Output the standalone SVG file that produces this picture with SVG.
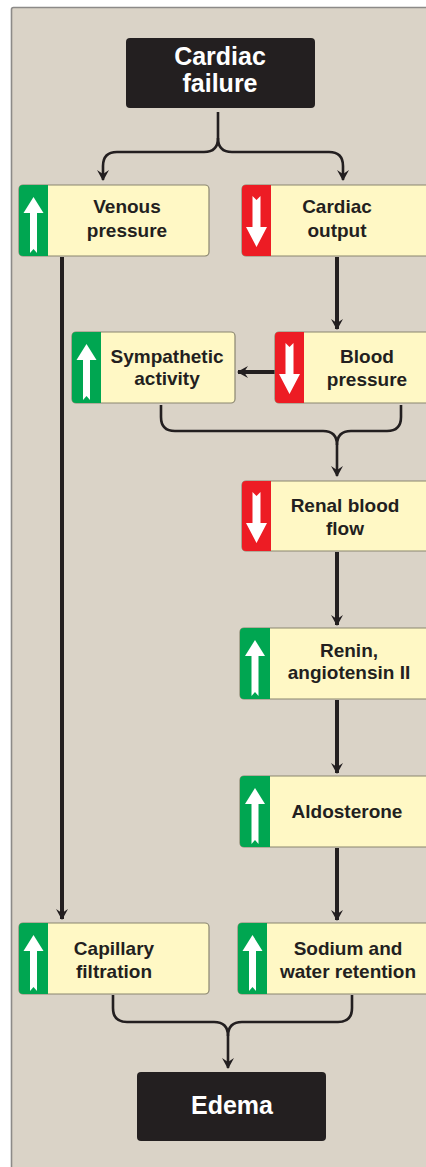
<svg xmlns="http://www.w3.org/2000/svg" width="426" height="1167" viewBox="0 0 426 1167">
<style>
.box{fill:#fff8c5;stroke:#8a8670;stroke-width:1.2}
.dark{fill:#231f20}
.green{fill:#00a651}
.red{fill:#ed1c24}
.t{font-family:"Liberation Sans",Arial,sans-serif;font-weight:bold;font-size:19px;fill:#231f20;text-anchor:middle}
.tw{font-family:"Liberation Sans",Arial,sans-serif;font-weight:bold;font-size:25px;fill:#ffffff;text-anchor:middle}
.thick{fill:none;stroke:#231f20;stroke-width:4}
.thin{fill:none;stroke:#231f20;stroke-width:2.6}
.ico{fill:#ffffff}
</style>
<defs>
<marker id="ah" markerUnits="userSpaceOnUse" markerWidth="16" markerHeight="16" viewBox="-12 -8 14 16" refX="0" refY="0" orient="auto">
<path d="M1,0 L-10,-6 L-6,0 L-10,6 Z" fill="#231f20"/>
</marker>
<path id="up" d="M0,12 L10,28 L3.5,28 L3.5,68 L0,64 L-3.5,68 L-3.5,28 L-10,28 Z"/>
<path id="down" d="M-4,11 L0,15 L4,11 L4,42 L10.5,42 L0,62 L-10.5,42 L-4,42 Z"/>
</defs>
<rect x="0" y="0" width="426" height="1167" fill="#ffffff"/>
<rect x="11.5" y="7.5" width="440" height="1180" rx="2" fill="#dad3c7" stroke="#8c8a88" stroke-width="1.6"/>

<g id="connectors">
<path class="thin" d="M218,112 V138 Q218,152 204,152 H117 Q103,152 103,166 V180" marker-end="url(#ah)"/>
<path class="thin" d="M218,138 Q218,152 232,152 H329 Q343,152 343,166 V180" marker-end="url(#ah)"/>
<path class="thick" d="M62,257 V919" marker-end="url(#ah)"/>
<path class="thick" d="M337,257 V329" marker-end="url(#ah)"/>
<path class="thick" d="M275,372 H238" marker-end="url(#ah)"/>
<path class="thin" d="M161,405 V417 Q161,431 175,431 H323 Q337,431 337,445"/>
<path class="thin" d="M401,405 V417 Q401,431 387,431 H351 Q337,431 337,445 V476" marker-end="url(#ah)"/>
<path class="thick" d="M337,552 V625" marker-end="url(#ah)"/>
<path class="thick" d="M337,700 V773" marker-end="url(#ah)"/>
<path class="thick" d="M337,848 V920" marker-end="url(#ah)"/>
<path class="thin" d="M113,995 V1008 Q113,1022 127,1022 H214 Q228,1022 228,1036"/>
<path class="thin" d="M352,995 V1008 Q352,1022 338,1022 H242 Q228,1022 228,1036 V1068" marker-end="url(#ah)"/>
</g>

<g id="cardiac-failure">
<rect class="dark" x="126" y="38" width="189" height="70" rx="4"/>
<text class="tw" x="220" y="65">Cardiac</text>
<text class="tw" x="220" y="92">failure</text>
</g>

<g id="venous-pressure">
<rect class="box" x="19" y="185" width="190" height="71" rx="4"/>
<path class="green" d="M23,185 H48 V256 H23 Q19,256 19,252 V189 Q19,185 23,185 Z"/>
<use href="#up" class="ico" transform="translate(33.5,185)"/>
<text class="t" x="127" y="213">Venous</text>
<text class="t" x="127" y="237">pressure</text>
</g>

<g id="cardiac-output">
<rect class="box" x="242" y="185" width="200" height="71" rx="4"/>
<path class="red" d="M246,185 H271 V256 H246 Q242,256 242,252 V189 Q242,185 246,185 Z"/>
<use href="#down" class="ico" transform="translate(256.5,185)"/>
<text class="t" x="337" y="213">Cardiac</text>
<text class="t" x="337" y="237">output</text>
</g>

<g id="sympathetic-activity">
<rect class="box" x="72" y="332" width="163" height="71" rx="4"/>
<path class="green" d="M76,332 H101 V403 H76 Q72,403 72,399 V336 Q72,332 76,332 Z"/>
<use href="#up" class="ico" transform="translate(86.5,332)"/>
<text class="t" x="167" y="363">Sympathetic</text>
<text class="t" x="167" y="385">activity</text>
</g>

<g id="blood-pressure">
<rect class="box" x="275" y="332" width="170" height="71" rx="4"/>
<path class="red" d="M279,332 H304 V403 H279 Q275,403 275,399 V336 Q275,332 279,332 Z"/>
<use href="#down" class="ico" transform="translate(289.5,332)"/>
<text class="t" x="367" y="363">Blood</text>
<text class="t" x="367" y="386">pressure</text>
</g>

<g id="renal-blood-flow">
<rect class="box" x="242" y="481" width="200" height="70" rx="4"/>
<path class="red" d="M246,481 H271 V551 H246 Q242,551 242,547 V485 Q242,481 246,481 Z"/>
<use href="#down" class="ico" transform="translate(256.5,481)"/>
<text class="t" x="345" y="512">Renal blood</text>
<text class="t" x="345" y="535">flow</text>
</g>

<g id="renin-angiotensin">
<rect class="box" x="240" y="628" width="200" height="71" rx="4"/>
<path class="green" d="M244,628 H270 V699 H244 Q240,699 240,695 V632 Q240,628 244,628 Z"/>
<use href="#up" class="ico" transform="translate(255,628)"/>
<text class="t" x="349" y="657">Renin,</text>
<text class="t" x="349" y="679">angiotensin II</text>
</g>

<g id="aldosterone">
<rect class="box" x="240" y="776" width="200" height="71" rx="4"/>
<path class="green" d="M244,776 H270 V847 H244 Q240,847 240,843 V780 Q240,776 244,776 Z"/>
<use href="#up" class="ico" transform="translate(255,776)"/>
<text class="t" x="347" y="818">Aldosterone</text>
</g>

<g id="capillary-filtration">
<rect class="box" x="19" y="923" width="190" height="71" rx="4"/>
<path class="green" d="M23,923 H48 V994 H23 Q19,994 19,990 V927 Q19,923 23,923 Z"/>
<use href="#up" class="ico" transform="translate(33.5,923)"/>
<text class="t" x="114" y="955">Capillary</text>
<text class="t" x="114" y="978">filtration</text>
</g>

<g id="sodium-water-retention">
<rect class="box" x="238" y="923" width="200" height="71" rx="4"/>
<path class="green" d="M242,923 H267 V994 H242 Q238,994 238,990 V927 Q238,923 242,923 Z"/>
<use href="#up" class="ico" transform="translate(252.5,923)"/>
<text class="t" x="348" y="955">Sodium and</text>
<text class="t" x="348" y="978">water retention</text>
</g>

<g id="edema">
<rect class="dark" x="137" y="1072" width="189" height="69" rx="4"/>
<text class="tw" x="232" y="1114">Edema</text>
</g>
</svg>
